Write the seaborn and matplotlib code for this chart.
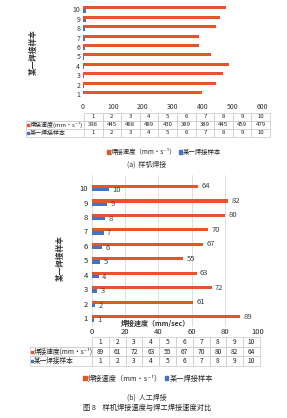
import matplotlib
matplotlib.use("Agg")
import matplotlib.pyplot as plt
from matplotlib.patches import Patch
import seaborn as sns
import pandas as pd

# ---------------- data ----------------
samples = ["1", "2", "3", "4", "5", "6", "7", "8", "9", "10"]
machine_speed = [398, 445, 468, 489, 430, 389, 389, 445, 459, 479]
manual_speed = [89, 61, 72, 63, 55, 67, 70, 80, 82, 64]
sample_no = [1, 2, 3, 4, 5, 6, 7, 8, 9, 10]
top_ticks = [0, 100, 200, 300, 400, 500, 600]
bottom_ticks = [0, 20, 40, 60, 80, 100]
series_speed = "焊接速度（mm·s⁻¹）"
series_sample = "某一焊接样本"
table_speed = "焊接速度(mm·s⁻¹)"
ylabel_text = "某一焊接样本"
xlabel_bottom = "焊接速度（mm/sec）"
caption_a = "(a)  样机焊接"
caption_b = "(b)  人工焊接"
caption_fig = "图 8    样机焊接速度与焊工焊接速度对比"

ORANGE = "#E2562A"
BLUE = "#4472C4"

sns.set_theme(style="white")
plt.rcParams["font.family"] = ["Noto Sans CJK SC", "DejaVu Sans"]

W, H = 287, 418
fig = plt.figure(figsize=(W / 100, H / 100), dpi=100)
fig.patch.set_facecolor("white")


def rect(x0, y0, x1, y1):
    return [x0 / W, 1 - y1 / H, (x1 - x0) / W, (y1 - y0) / H]


def fpt(x, y):
    return (x / W, 1 - y / H)


def make_df(speed):
    rows = []
    for s, v in zip(samples, speed):
        rows.append({"sample": s, "series": series_speed, "value": v})
    for s, v in zip(samples, sample_no):
        rows.append({"sample": s, "series": series_sample, "value": v})
    return pd.DataFrame(rows)


order = samples[::-1]
hue_order = [series_speed, series_sample]
pal = {series_speed: ORANGE, series_sample: BLUE}

# ---------------- top panel ----------------
ax1 = fig.add_axes(rect(83, 4.8, 262, 98.7))
sns.barplot(data=make_df(machine_speed), y="sample", x="value", hue="series",
            order=order, hue_order=hue_order, palette=pal, orient="h",
            width=0.66, ax=ax1, legend=False, saturation=1, linewidth=0)
ax1.set_xlim(0, 600)
ax1.set_ylim(9.5, -0.5)
ax1.set_xticks(top_ticks)
ax1.set_xticklabels([str(t) for t in top_ticks])
ax1.tick_params(axis="x", labelsize=5, pad=3, length=0, colors="#333333")
ax1.tick_params(axis="y", labelsize=5, pad=2, length=0, colors="#333333")
ax1.set_xlabel("")
ax1.set_ylabel("")
for sp in ax1.spines.values():
    sp.set_visible(False)
fig.text(*fpt(33, 52), ylabel_text, rotation=90, ha="center", va="center",
         fontsize=5.5, color="#333333", fontweight="bold")

# ---------------- bottom panel ----------------
ax2 = fig.add_axes(rect(92, 175, 258, 327))
sns.barplot(data=make_df(manual_speed), y="sample", x="value", hue="series",
            order=order, hue_order=hue_order, palette=pal, orient="h",
            width=0.46, ax=ax2, legend=False, saturation=1, linewidth=0)
ax2.set_xlim(0, 100)
ax2.set_ylim(9.6, -0.9)
ax2.set_xticks(bottom_ticks)
ax2.set_xticklabels([str(t) for t in bottom_ticks])
ax2.xaxis.grid(True, color="#d9d9d9", linewidth=0.6)
ax2.set_axisbelow(True)
ax2.tick_params(axis="x", labelsize=5.5, pad=1, length=0, colors="#222222")
ax2.tick_params(axis="y", labelsize=5.5, pad=3, length=0, colors="#222222")
ax2.set_xlabel("")
ax2.set_ylabel("")
for sp in ax2.spines.values():
    sp.set_visible(False)
for c in ax2.containers:
    ax2.bar_label(c, fontsize=5.5, padding=2.5, color="#404040")
fig.text(*fpt(155, 323), xlabel_bottom, ha="center", va="center",
         fontsize=5, color="#333333", fontweight="bold")
fig.text(*fpt(60, 258), ylabel_text, rotation=90, ha="center", va="center",
         fontsize=5.5, color="#333333", fontweight="bold")


# ---------------- data tables ----------------
def draw_table(x0, y0, x1, y1, xsplit, speed, fs):
    tax = fig.add_axes(rect(x0, y0, x1, y1))
    tax.axis("off")
    cells = [[""] + samples,
             [""] + [str(v) for v in speed],
             [""] + [str(v) for v in sample_no]]
    lw = (xsplit - x0) / (x1 - x0)
    cw = (1 - lw) / len(samples)
    tb = tax.table(cellText=cells, colWidths=[lw] + [cw] * len(samples),
                   bbox=[0, 0, 1, 1], cellLoc="center")
    tb.auto_set_font_size(False)
    for (r, c), cell in tb.get_celld().items():
        cell.set_edgecolor("#c8c8c8")
        cell.set_linewidth(0.5)
        cell.get_text().set_fontsize(fs)
        cell.get_text().set_color("#222222")
        if r == 0 and c == 0:
            cell.visible_edges = "B"
    rh = (y1 - y0) / 3
    for i, (col, lab) in enumerate([(ORANGE, table_speed),
                                    (BLUE, series_sample)]):
        yc = y0 + rh * (1.5 + i)
        fig.patches.append(plt.Rectangle(fpt(x0 + 1.2, yc + 1), 2.0 / W,
                                         2.0 / H, transform=fig.transFigure,
                                         color=col, zorder=5))
        fig.text(*fpt(x0 + 4, yc), lab, ha="left", va="center", fontsize=fs,
                 color="#222222")
    return tax


draw_table(26, 113, 270, 137, 84, machine_speed, 4.3)
draw_table(30, 337, 260, 366, 92, manual_speed, 4.8)

# ---------------- legends ----------------
handles = [Patch(color=ORANGE), Patch(color=BLUE)]
for (cx, cy, fs) in [(164, 152, 4.6), (148, 379, 5.2)]:
    fig.legend(handles, hue_order, loc="center", bbox_to_anchor=fpt(cx, cy),
               ncol=2, frameon=False, fontsize=fs, handlelength=0.5,
               handleheight=0.5, handletextpad=0.15, columnspacing=0.4,
               borderaxespad=0, borderpad=0, labelcolor="#222222")

# ---------------- captions ----------------
fig.text(*fpt(147, 165), caption_a, ha="center", va="center", fontsize=5,
         color="#333333")
fig.text(*fpt(147, 398), caption_b, ha="center", va="center", fontsize=5,
         color="#333333")
fig.text(*fpt(147, 408), caption_fig, ha="center", va="center", fontsize=5.2,
         color="#222222")

fig.savefig("out.png", dpi=100, facecolor="white")
